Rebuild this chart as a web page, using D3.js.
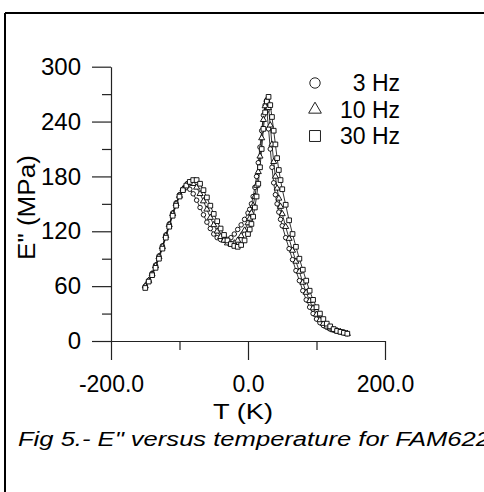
<!DOCTYPE html>
<html><head><meta charset="utf-8">
<script src="https://cdn.jsdelivr.net/npm/d3@7"></script>
<style>body{margin:0;background:#fff}svg{display:block}</style>
</head><body>
<script>
const temps = [-150,-145,-140,-135,-130,-125,-120,-115,-110,-105,-100,-95,-90,-85,-80,-75,-70,-65,-60,-55,-50,-45,-40,-35,-30,-25,-20,-15,-10,-5,0,
  2.5,5,7.5,10,12.5,15,17.5,20,22.5,25,27.5,30,32.5,35,37.5,40,42.5,45,47.5,50,
  55,60,65,70,75,80,85,90,95,100,105,110,115,120,125,130,135,140,145];
const e3Hz = [60,66,74,83,93,104,116,128,140,151,160,166,168,166,161,154,146,138,130,123,117,113,111,110,111,113,117,122,127,133,140,
  144,150,158,168,180,195,212,230,247,258,252,232,210,190,173,160,150,141,133,126,
  113,101,89,77,66,55,45,37,30,24,20,17,15,13,12,11,10,9,8];
const e10Hz = [60,66,73,82,92,103,115,127,139,150,159,166,171,173,172,168,161,153,144,135,127,120,114,110,107,106,107,110,115,121,129,
  134,140,148,158,170,185,202,222,242,257,264,255,236,215,196,180,167,156,147,139,
  125,112,99,87,76,64,53,44,36,29,23,19,16,14,12,11,10,9,8];
const e30Hz = [58,65,72,80,90,101,113,125,137,148,158,165,170,174,176,176,172,165,157,148,139,131,123,116,110,106,104,103,105,110,117,
  122,128,136,146,158,172,190,210,232,250,262,267,258,245,230,215,200,187,176,166,
  149,132,117,103,90,78,66,55,45,37,30,24,19,16,13,11,10,9,8];
const seriesNames = ["3 Hz","10 Hz","30 Hz"];
const seriesSymbols = ["circle","triangle","square"];
const xTicks = [-200,0,200];
const xMinor = [-100,100];
const yTicks = [0,60,120,180,240,300];
const yMinor = [30,90,150,210,270];

const W = 484, H = 492;
const svg = d3.select("body").append("svg").attr("width",W).attr("height",H);
const font = "Liberation Sans, Arial, sans-serif";

// frame
svg.append("line").attr("x1",5).attr("x2",W).attr("y1",13).attr("y2",13).attr("stroke","#000").attr("stroke-width",1.8);
svg.append("line").attr("x1",5).attr("x2",5).attr("y1",13).attr("y2",H).attr("stroke","#000").attr("stroke-width",2);

const x = d3.scaleLinear().domain([-200,200]).range([111,385]);
const y = d3.scaleLinear().domain([0,300]).range([341,66.7]);

const g = svg.append("g");
const fmtX = d => d3.format(".1f")(d).replace("\u2212","-");
// axes
const yAxis = d3.axisLeft(y).tickValues(yTicks).tickSize(19).tickSizeOuter(0).tickPadding(11).tickFormat(d3.format("d"));
const ya = g.append("g").attr("transform",`translate(${x(-200)},0)`).call(yAxis);
const yAxisMinor = d3.axisLeft(y).tickValues(yMinor).tickSize(9).tickSizeOuter(0).tickFormat("");
const yam = g.append("g").attr("transform",`translate(${x(-200)},0)`).call(yAxisMinor);
const xAxis = d3.axisBottom(x).tickValues(xTicks).tickSize(19).tickSizeOuter(0).tickPadding(16).tickFormat(fmtX);
const xa = g.append("g").attr("transform",`translate(0,${y(0)})`).call(xAxis);
const xAxisMinor = d3.axisBottom(x).tickValues(xMinor).tickSize(9).tickSizeOuter(0).tickFormat("");
const xam = g.append("g").attr("transform",`translate(0,${y(0)})`).call(xAxisMinor);
[ya,yam,xa,xam].forEach(a=>{
  a.selectAll("path,line").attr("stroke","#222").attr("stroke-width",1.2);
  a.selectAll("text").attr("font-family",font).attr("font-size",23).attr("fill","#000");
});
yam.select(".domain").remove(); xam.select(".domain").remove();
xa.selectAll("text").attr("dy","0.71em");
ya.selectAll("text").attr("font-size",24);

// axis titles
svg.append("text").attr("x",213).attr("y",419)
  .attr("textLength",60).attr("lengthAdjust","spacingAndGlyphs")
  .attr("font-family",font).attr("font-size",22).text("T (K)");
svg.append("text").attr("transform","translate(35,260) rotate(-90)")
  .attr("textLength",105).attr("lengthAdjust","spacingAndGlyphs")
  .attr("font-family",font).attr("font-size",23).text("E\" (MPa)");
svg.append("text").attr("x",18).attr("y",446).attr("font-family",font).attr("font-style","italic")
  .attr("textLength",472).attr("lengthAdjust","spacingAndGlyphs")
  .attr("font-size",20).text("Fig 5.- E\" versus temperature for FAM622");

// data
const allSeries = [e3Hz,e10Hz,e30Hz];
const line = d3.line().x((d,i)=>x(temps[i])).y(d=>y(d));
const symType = {circle:d3.symbolCircle, triangle:d3.symbolTriangle, square:d3.symbolSquare};
const symSize = {circle:16, triangle:16, square:22};
allSeries.forEach((vals,k)=>{
  g.append("path").datum(vals).attr("d",line).attr("fill","none").attr("stroke","#000").attr("stroke-width",0.8);
});
allSeries.forEach((vals,k)=>{
  const sym = d3.symbol().type(symType[seriesSymbols[k]]).size(symSize[seriesSymbols[k]]);
  g.selectAll(null).data(vals).enter().append("path")
    .attr("transform",(d,i)=>`translate(${x(temps[i])},${y(d)})`)
    .attr("d",sym).attr("fill","#fff").attr("stroke","#000").attr("stroke-width",0.9);
});

// legend
const leg = svg.append("g");
seriesNames.forEach((n,k)=>{
  const cy = 83 + k*26.5;
  const s = seriesSymbols[k];
  const sym = d3.symbol().type(symType[s]).size(s==="square"?120:(s==="circle"?85:70));
  leg.append("path").attr("transform",`translate(315,${cy})`).attr("d",sym)
    .attr("fill","none").attr("stroke","#222").attr("stroke-width",1);
  leg.append("text").attr("x",400).attr("y",cy+8).attr("text-anchor","end")
    .attr("font-family",font).attr("font-size",23).text(n);
});
</script>
</body></html>
